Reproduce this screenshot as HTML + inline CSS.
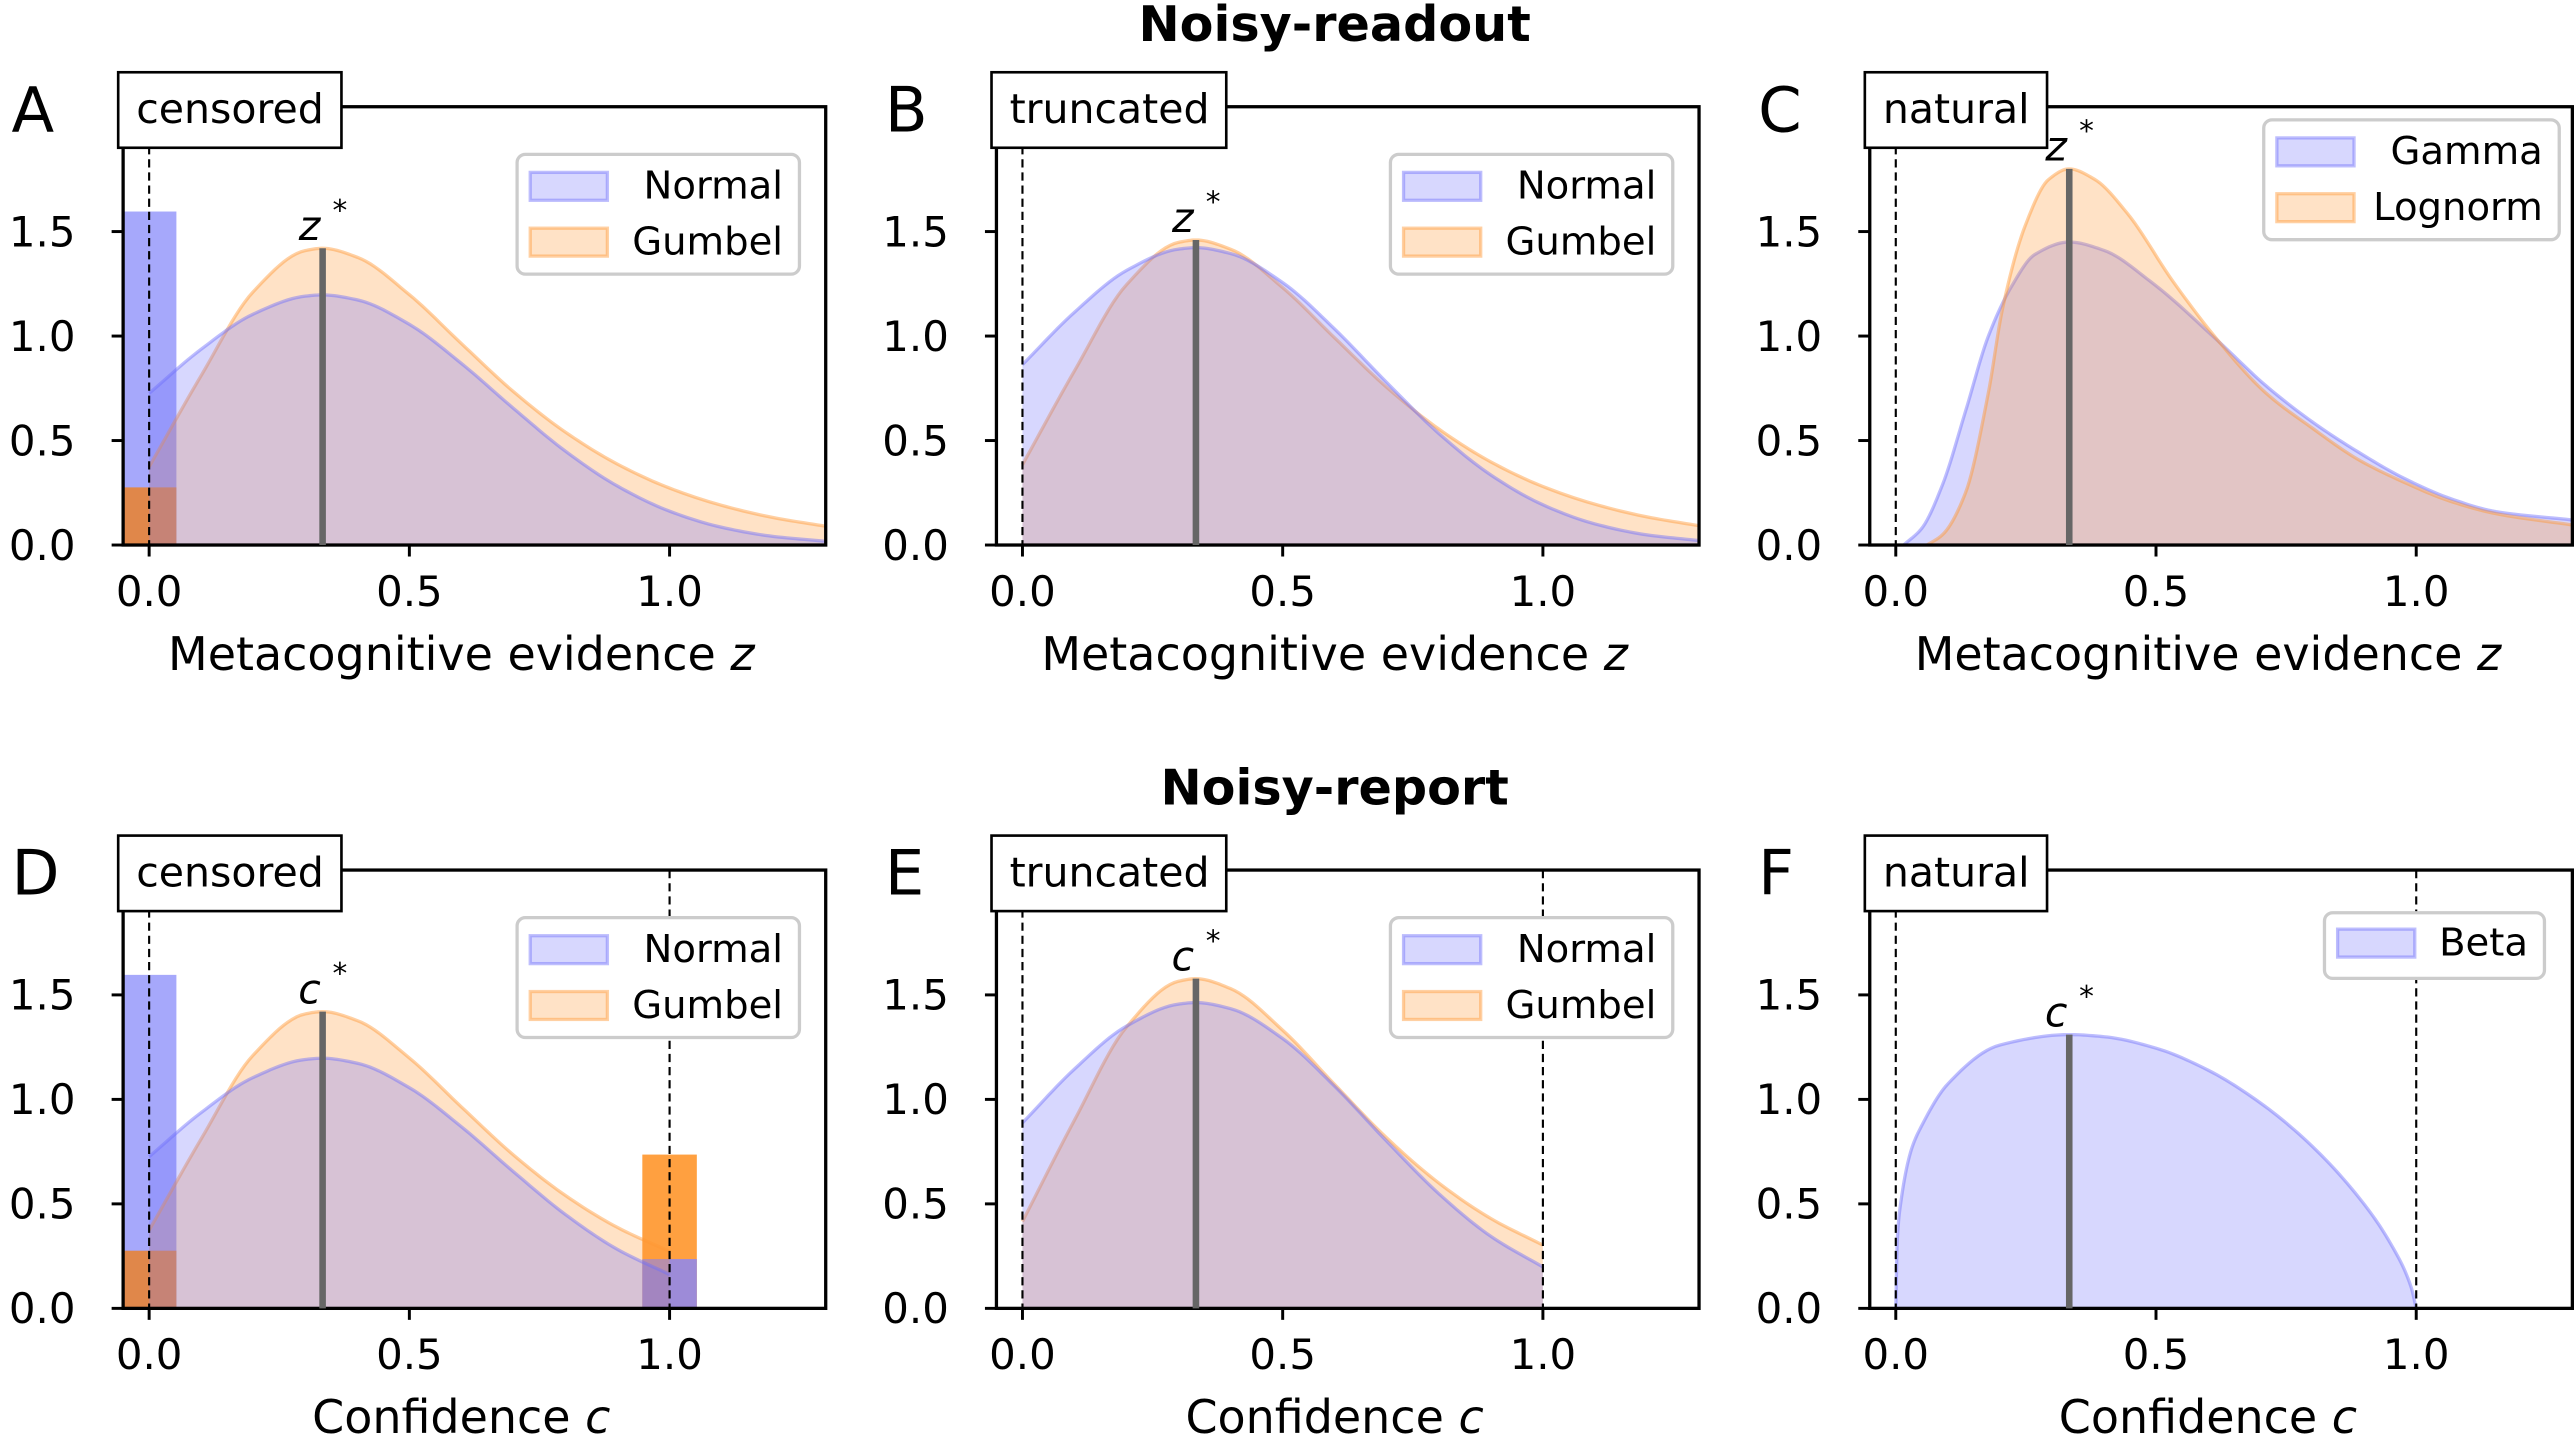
<!DOCTYPE html>
<html><head><meta charset="utf-8">
<style>
html,body{margin:0;padding:0;background:#fff;}
svg{display:block;}
text{font-family:"DejaVu Sans","Liberation Sans",sans-serif;fill:#000;}
</style></head>
<body>
<svg id="fig" width="2574" height="1443" viewBox="0 0 1568 879" xmlns="http://www.w3.org/2000/svg">
<text x="813" y="25" font-size="30" font-weight="bold" text-anchor="middle">Noisy-readout</text>
<text x="813" y="490" font-size="30" font-weight="bold" text-anchor="middle">Noisy-report</text>
</svg>
<script>
// ---- data ----
const xGrid = [0, 0.1, 0.2, 0.3, 0.3333, 0.4, 0.5, 0.6, 0.7, 0.8, 0.9, 1.0, 1.1, 1.2, 1.3];
const normalVals = [0.726, 0.937, 1.105, 1.191, 1.197, 1.173, 1.056, 0.869, 0.654, 0.449, 0.282, 0.162, 0.085, 0.041, 0.018];
const gumbelVals = [0.374, 0.811, 1.212, 1.409, 1.420, 1.377, 1.198, 0.964, 0.734, 0.540, 0.387, 0.2725, 0.190, 0.131, 0.090];
const truncScaleZ = [1.189, 1.028];   // normal, gumbel renormalisation (panel B)
const truncScaleC = [1.2225, 1.111];  // normal, gumbel renormalisation (panel E)
const censorLow = [1.59, 0.27];       // normal, gumbel bar at 0
const censorHigh = [0.23, 0.73];      // normal, gumbel bar at 1
const gammaX = [0.015, 0.05, 0.09, 0.134, 0.178, 0.223, 0.267, 0.333, 0.40, 0.49, 0.622, 0.71, 0.80, 0.888, 0.977, 1.065, 1.153, 1.3];
const gammaY = [0, 0.08, 0.29, 0.64, 1.00, 1.24, 1.39, 1.45, 1.41, 1.26, 0.97, 0.765, 0.59, 0.446, 0.319, 0.223, 0.16, 0.12];
const lognX = [0.06, 0.09, 0.134, 0.178, 0.205, 0.249, 0.294, 0.333, 0.382, 0.444, 0.533, 0.622, 0.71, 0.80, 0.888, 0.977, 1.065, 1.153, 1.3];
const lognY = [0, 0.05, 0.25, 0.73, 1.13, 1.53, 1.75, 1.80, 1.75, 1.59, 1.26, 0.97, 0.73, 0.56, 0.41, 0.30, 0.21, 0.15, 0.096];
const betaX = [0, 0.003, 0.01, 0.03, 0.05, 0.1, 0.2, 0.3333, 0.4, 0.5, 0.6, 0.7, 0.8, 0.9, 0.95, 0.99, 1.0];
const betaY = [0, 0.33, 0.513, 0.76, 0.875, 1.074, 1.260, 1.31, 1.30, 1.245, 1.14, 0.984, 0.776, 0.498, 0.313, 0.103, 0];
const starX = 0.3333;
const xTicks = [0, 0.5, 1.0];
const xTickLabels = ["0.0", "0.5", "1.0"];
const yTicks = [0, 0.5, 1.0, 1.5];
const yTickLabels = ["0.0", "0.5", "1.0", "1.5"];

// ---- layout ----
const svg = document.getElementById('fig');
const NS = 'http://www.w3.org/2000/svg';
const BLUE = 'rgb(110,110,250)', ORANGE = 'rgb(255,150,50)';
function mk(tag, attrs, parent) {
  const e = document.createElementNS(NS, tag);
  for (const k in attrs) e.setAttribute(k, attrs[k]);
  (parent || svg).appendChild(e);
  return e;
}
function axes(left, top) {
  const W = 428, bottom = top + 267;
  return {
    left, top, bottom, W,
    sx: v => left + (v + 0.05) / 1.35 * W,
    sy: v => bottom - v * 127.3
  };
}
// monotone cubic (Fritsch-Carlson) sampled densely
function monotone(xs, ys) {
  const n = xs.length, d = [], m = [];
  for (let i = 0; i < n - 1; i++) d.push((ys[i + 1] - ys[i]) / (xs[i + 1] - xs[i]));
  m[0] = d[0]; m[n - 1] = d[n - 2];
  for (let i = 1; i < n - 1; i++) {
    if (d[i - 1] * d[i] <= 0) m[i] = 0;
    else {
      const h0 = xs[i] - xs[i - 1], h1 = xs[i + 1] - xs[i];
      const w1 = 2 * h1 + h0, w2 = h1 + 2 * h0;
      m[i] = (w1 + w2) / (w1 / d[i - 1] + w2 / d[i]);
    }
  }
  const out = [];
  for (let i = 0; i < n - 1; i++) {
    const h = xs[i + 1] - xs[i], steps = 12;
    for (let k = 0; k < steps; k++) {
      const t = k / steps, t2 = t * t, t3 = t2 * t;
      const y = (2 * t3 - 3 * t2 + 1) * ys[i] + (t3 - 2 * t2 + t) * h * m[i] + (-2 * t3 + 3 * t2) * ys[i + 1] + (t3 - t2) * h * m[i + 1];
      out.push([xs[i] + t * h, Math.max(0, y)]);
    }
  }
  out.push([xs[n - 1], ys[n - 1]]);
  return out;
}
function area(ax, xs, ys, scale, xmax, color, name) {
  const fx = [], fy = [];
  for (let i = 0; i < xs.length; i++) {
    if (xs[i] <= xmax + 1e-9) { fx.push(xs[i]); fy.push(ys[i] * scale); }
  }
  const pts = monotone(fx, fy).map(p => [ax.sx(p[0]), ax.sy(p[1])]);
  const line = 'M' + pts.map(p => p[0].toFixed(2) + ',' + p[1].toFixed(2)).join(' L');
  const fill = line + ' L' + pts[pts.length - 1][0] + ',' + ax.bottom + ' L' + pts[0][0] + ',' + ax.bottom + ' Z';
  const f = mk('path', {d: fill, fill: color, 'fill-opacity': 0.28, stroke: 'none'});
  
  
  const s = mk('path', {d: line, fill: 'none', stroke: color, 'stroke-opacity': 0.45, 'stroke-width': 2});
  
  
}
function bar(ax, xc, h, color, name) {
  const r = mk('rect', {x: ax.sx(xc - 0.05), y: ax.sy(h), width: ax.sx(xc + 0.05) - ax.sx(xc - 0.05), height: ax.bottom - ax.sy(h), fill: color, stroke: color, 'stroke-width': 1.5});
  
  
}
function frame(ax, letter, tag, xlabel, varName, dashOne) {
  const d0 = mk('line', {x1: ax.sx(0), x2: ax.sx(0), y1: ax.top, y2: ax.bottom, stroke: '#000', 'stroke-width': 1.3, 'stroke-dasharray': '5,3'});
  
  
  if (dashOne) {
    const d1 = mk('line', {x1: ax.sx(1), x2: ax.sx(1), y1: ax.top, y2: ax.bottom, stroke: '#000', 'stroke-width': 1.3, 'stroke-dasharray': '5,3'});
    
    
  }
  const fr = mk('rect', {x: ax.left, y: ax.top, width: ax.W, height: ax.bottom - ax.top, fill: 'none', stroke: '#000', 'stroke-width': 2});
  
  
  yTicks.forEach((v, i) => {
    const y = ax.sy(v);
    const t = mk('line', {x1: ax.left - 7, x2: ax.left, y1: y, y2: y, stroke: '#000', 'stroke-width': 1.8});
    
    
    const l = mk('text', {x: ax.left - 29, y: y + 9, 'font-size': 25.5, 'text-anchor': 'end'});
    l.textContent = yTickLabels[i];
    
    
  });
  xTicks.forEach((v, i) => {
    const x = ax.sx(v);
    const t = mk('line', {x1: x, x2: x, y1: ax.bottom, y2: ax.bottom + 7, stroke: '#000', 'stroke-width': 1.8});
    
    
    const l = mk('text', {x: x, y: ax.bottom + 37, 'font-size': 25.5, 'text-anchor': 'middle'});
    l.textContent = xTickLabels[i];
    
    
  });
  const xl = mk('text', {x: ax.left + ax.W / 2 - 8, y: ax.bottom + 76, 'font-size': 28, 'text-anchor': 'middle'});
  xl.textContent = xlabel + ' ';
  const it = mk('tspan', {'font-style': 'italic'}, xl);
  it.textContent = varName;
  
  
  const pl = mk('text', {x: ax.left - 68, y: ax.top + 15, 'font-size': 38});
  pl.textContent = letter;
  
  
  const tb = mk('rect', {x: ax.left - 3, y: ax.top - 21, width: tag === 'natural' ? 111 : (tag === 'censored' ? 136 : 143), height: 46, fill: '#fff', stroke: '#000', 'stroke-width': 1.6});
  
  
  const tt = mk('text', {x: ax.left + 8, y: ax.top + 10, 'font-size': 25});
  tt.textContent = tag;
  
  
}
function star(ax, peak, v) {
  const x = ax.sx(starX);
  const l = mk('line', {x1: x, x2: x, y1: ax.bottom, y2: ax.sy(peak), stroke: '#666', 'stroke-width': 4});
  
  
  const t = mk('text', {x: x - 8, y: ax.sy(peak) - 5, 'font-size': 25, 'text-anchor': 'middle', 'font-style': 'italic'});
  t.textContent = v;
  
  
  const s = mk('text', {x: x + 6, y: ax.sy(peak) - 17, 'font-size': 18});
  s.textContent = '*';
  
  
}
function legend(x, y, w, items) {
  const h = items.length === 1 ? 40 : 73;
  const g = mk('g', {});
  
  
  mk('rect', {x, y, width: w, height: h, rx: 5, fill: '#fff', stroke: '#ccc', 'stroke-width': 2}, g);
  items.forEach((it, i) => {
    const cy = y + (items.length === 1 ? 18 : 19 + i * 34);
    const sw = mk('rect', {x: x + 8, y: cy - 8, width: 47, height: 17, fill: it[1], 'fill-opacity': 0.28, stroke: it[1], 'stroke-opacity': 0.45, 'stroke-width': 2}, g);
    
    
    const t = mk('text', {x: x + w - 10, y: cy + 8, 'font-size': 23.5, 'text-anchor': 'end'}, g);
    t.textContent = it[0];
    
    
  });
}

const lefts = [75, 607, 1139], tops = [65, 530];
const NG = [['Normal', BLUE], ['Gumbel', ORANGE]];

// Panel A
let ax = axes(lefts[0], tops[0]);
bar(ax, 0, censorLow[0], '#a6a8fb', 'normal-censor-bar-low');
bar(ax, 0, censorLow[1], '#e0874a', 'gumbel-censor-bar-low');
area(ax, xGrid, gumbelVals, 1, 1.3, ORANGE, 'gumbel');
area(ax, xGrid, normalVals, 1, 1.3, BLUE, 'normal');
frame(ax, 'A', 'censored', 'Metacognitive evidence', 'z', false);
star(ax, gumbelVals[4], 'z');
legend(315, 94, 172, NG);

// Panel B
ax = axes(lefts[1], tops[0]);
area(ax, xGrid, gumbelVals, truncScaleZ[1], 1.3, ORANGE, 'gumbel');
area(ax, xGrid, normalVals, truncScaleZ[0], 1.3, BLUE, 'normal');
frame(ax, 'B', 'truncated', 'Metacognitive evidence', 'z', false);
star(ax, gumbelVals[4] * truncScaleZ[1], 'z');
legend(847, 94, 172, NG);

// Panel C
ax = axes(lefts[2], tops[0]);
area(ax, gammaX, gammaY, 1, 1.3, BLUE, 'gamma');
area(ax, lognX, lognY, 1, 1.3, ORANGE, 'lognorm');
frame(ax, 'C', 'natural', 'Metacognitive evidence', 'z', false);
star(ax, lognY[7], 'z');
legend(1379, 73, 180, [['Gamma', BLUE], ['Lognorm', ORANGE]]);

// Panel D
ax = axes(lefts[0], tops[1]);
bar(ax, 0, censorLow[0], '#a6a8fb', 'normal-censor-bar-low');
bar(ax, 0, censorLow[1], '#e0874a', 'gumbel-censor-bar-low');
bar(ax, 1, censorHigh[1], '#ffa040', 'gumbel-censor-bar-high');
bar(ax, 1, censorHigh[0], '#9d8bd8', 'normal-censor-bar-high');
area(ax, xGrid, gumbelVals, 1, 1.0, ORANGE, 'gumbel');
area(ax, xGrid, normalVals, 1, 1.0, BLUE, 'normal');
frame(ax, 'D', 'censored', 'Confidence', 'c', true);
star(ax, gumbelVals[4], 'c');
legend(315, 559, 172, NG);

// Panel E
ax = axes(lefts[1], tops[1]);
area(ax, xGrid, gumbelVals, truncScaleC[1], 1.0, ORANGE, 'gumbel');
area(ax, xGrid, normalVals, truncScaleC[0], 1.0, BLUE, 'normal');
frame(ax, 'E', 'truncated', 'Confidence', 'c', true);
star(ax, gumbelVals[4] * truncScaleC[1], 'c');
legend(847, 559, 172, NG);

// Panel F
ax = axes(lefts[2], tops[1]);
area(ax, betaX, betaY, 1, 1.0, BLUE, 'beta');
frame(ax, 'F', 'natural', 'Confidence', 'c', true);
star(ax, betaY[7], 'c');
legend(1416, 556, 134, [['Beta', BLUE]]);
</script>
</body></html>
